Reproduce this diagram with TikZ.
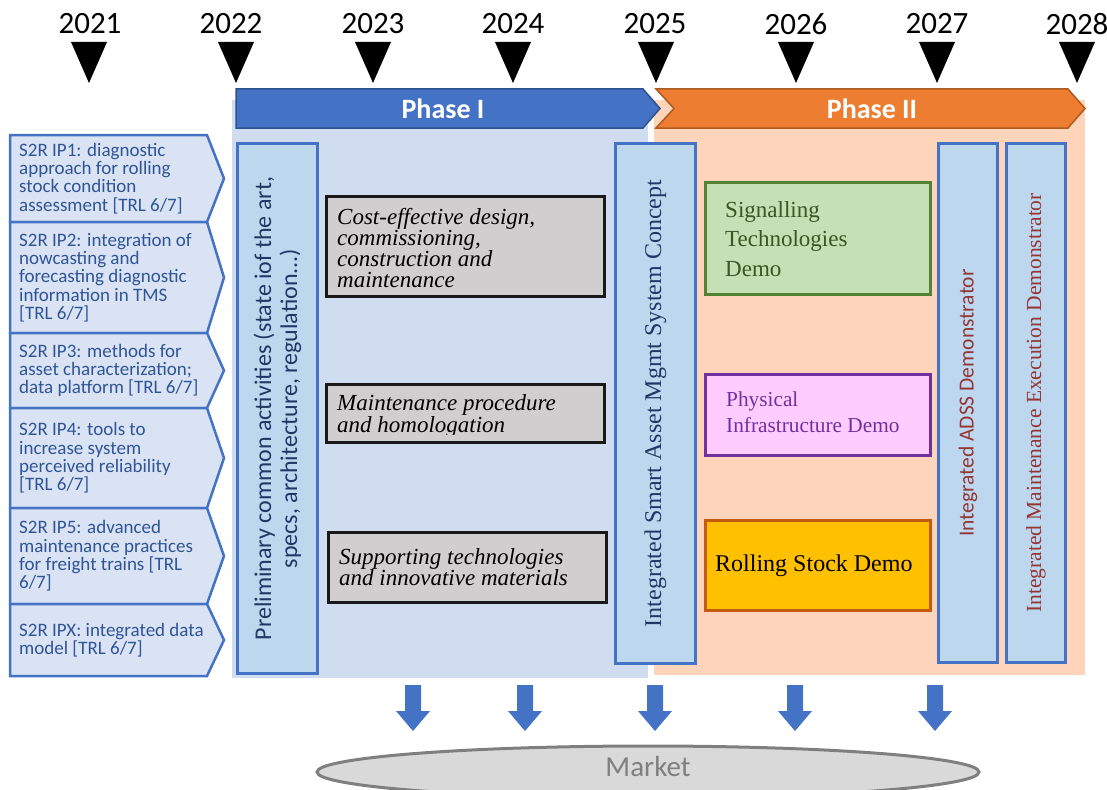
\documentclass[tikz,border=0pt]{standalone}
\usepackage{fontspec}
\setmainfont{Liberation Serif}
\newfontfamily\calfont{Carlito}
\usetikzlibrary{shapes.geometric}
\definecolor{phIfill}{HTML}{4472C4}
\definecolor{phIdraw}{HTML}{2F528F}
\definecolor{phIIfill}{HTML}{ED7D31}
\definecolor{phIIdraw}{HTML}{AE5A21}
\definecolor{phIbg}{HTML}{D0DCF0}
\definecolor{phIIbg}{HTML}{FED5BB}
\definecolor{tallfill}{HTML}{BDD7EE}
\definecolor{ipfill}{HTML}{DAE3F3}
\definecolor{iptext}{HTML}{2F5597}
\definecolor{grayfill}{HTML}{D0CECE}
\definecolor{grnfill}{HTML}{C5E0B4}
\definecolor{grndraw}{HTML}{548235}
\definecolor{grntext}{HTML}{385723}
\definecolor{pinkfill}{HTML}{FFCCFF}
\definecolor{purp}{HTML}{7030A0}
\definecolor{orfill}{HTML}{FFC000}
\definecolor{ordraw}{HTML}{C55A11}
\definecolor{darkred}{HTML}{943634}
\definecolor{navy}{HTML}{203864}
\definecolor{mktfill}{HTML}{D9D9D9}
\definecolor{mktdraw}{HTML}{7F7F7F}
\newcommand\ipbox[4]{%
  \draw[ipshape] (10,#2) -- (207,#2) -- (224,{(#2+#3)/2}) -- (207,#3) -- (10,#3) -- cycle;
  \node[iplabel] (#1) at (19,{(#2+#3)/2}) {#4};
}
\begin{document}
\begin{tikzpicture}[x=1pt,y=-1pt,
  yearlbl/.style={font=\calfont\fontsize{31}{31}\selectfont, inner sep=0},
  phaselbl/.style={font=\calfont\bfseries\fontsize{28}{28}\selectfont, text=white, inner sep=0},
  ipshape/.style={fill=ipfill, draw=phIfill, line width=2.5pt, line join=miter},
  iplabel/.style={anchor=west, align=left, inner sep=0, text=iptext, font=\calfont\fontsize{19}{18.3}\selectfont},
  tallbox/.style={draw=phIfill, fill=tallfill, line width=3pt, rotate=90, inner sep=0, align=center},
  graybox/.style={draw=black!90, fill=grayfill, line width=3.5pt, inner sep=0},
  itext/.style={anchor=west, align=left, inner sep=0, font=\itshape\fontsize{23}{21.3}\selectfont},
  demobox/.style={line width=3pt, inner sep=0},
  downarrow/.style={fill=phIfill}
]
\useasboundingbox (0,0) rectangle (1107,789);
\clip (0,0) rectangle (1107,789);

% phase backgrounds
\fill[phIbg] (232,100) rectangle (648,678);
\fill[phIIbg] (654,100) rectangle (1085,675);

% years
\foreach \yr/\tx/\x in {2021/90/89,2022/231/236,2023/373/373,2024/513/513,2025/655/656,2026/796/796,2027/937/937,2028/1077/1077} {
  \node[yearlbl] (y\yr) at (\tx,24) {\yr};
  \fill (\x-18,42) -- (\x+18,42) -- (\x,83) -- cycle;
}

% phase arrows
\draw[fill=phIfill, draw=phIdraw, line width=1.5pt] (236,89) -- (643,89) -- (660,108.5) -- (643,128) -- (236,128) -- cycle;
\node[phaselbl] (ph1) at (443,109) {Phase I};
\draw[fill=phIIfill, draw=phIIdraw, line width=1.5pt] (656,89) -- (1068,89) -- (1085,108.5) -- (1068,128) -- (656,128) -- (674,108.5) -- cycle;
\node[phaselbl] (ph2) at (872,109) {Phase II};

% left IP boxes
\ipbox{ip1}{135}{222}{S2R IP1: diagnostic\\approach for rolling\\stock condition\\assessment [TRL 6/7]}
\ipbox{ip2}{222}{333}{S2R IP2: integration of\\nowcasting and\\forecasting diagnostic\\information in TMS\\{[TRL 6/7]}}
\ipbox{ip3}{333}{408}{S2R IP3: methods for\\asset characterization;\\data platform [TRL 6/7]}
\ipbox{ip4}{408}{508}{S2R IP4: tools to\\increase system\\perceived reliability\\{[TRL 6/7]}}
\ipbox{ip5}{508}{604}{S2R IP5: advanced\\maintenance practices\\for freight trains [TRL\\6/7]}
\ipbox{ipx}{604}{676}{S2R IPX: integrated data\\model [TRL 6/7]}

% tall boxes
\node[tallbox, minimum width=530, minimum height=80, text=navy,
  font=\calfont\fontsize{24}{26}\selectfont] (prelim) at (277.5,408.5)
  {Preliminary common activities (state iof the art,\\specs, architecture, regulation...)};
\node[tallbox, minimum width=520, minimum height=80, text=navy,
  font=\fontsize{24}{26}\selectfont] (ismc) at (655.5,403.5)
  {Integrated Smart Asset Mgmt System Concept};
\node[tallbox, minimum width=519, minimum height=59, text=darkred,
  font=\calfont\fontsize{21.5}{22}\selectfont] (adss) at (968,403)
  {Integrated ADSS Demonstrator};
\node[tallbox, minimum width=519, minimum height=59, text=darkred,
  font=\fontsize{21.5}{22}\selectfont] (imed) at (1036,403)
  {Integrated Maintenance Execution Demonstrator};

% gray boxes
\node[graybox, minimum width=278, minimum height=100] (g1) at (465.5,246.5) {};
\node[itext] (g1t) at (337,248) {Cost-effective design,\\commissioning,\\construction and\\maintenance};
\node[graybox, minimum width=278, minimum height=58] (g2) at (465.5,413.5) {};
\begin{scope}
  \clip (328,386) rectangle (603,434);
  \node[itext] (g2t) at (337,416) {Maintenance procedure\\and homologation};
\end{scope}
\node[graybox, minimum width=278, minimum height=70] (g3) at (467.5,567.5) {};
\node[itext] (g3t) at (339,567) {Supporting technologies\\and innovative materials};

% demo boxes
\node[demobox, draw=grndraw, fill=grnfill, minimum width=225, minimum height=112] (sig) at (818,238.5) {};
\node[anchor=west, align=left, inner sep=0, text=grntext, font=\fontsize{23}{29.5}\selectfont] (sigt) at (725,239) {Signalling\\Technologies\\Demo};
\node[demobox, draw=purp, fill=pinkfill, minimum width=225, minimum height=81] (phy) at (818,415) {};
\node[anchor=west, align=left, inner sep=0, text=purp, font=\fontsize{21.3}{26}\selectfont] (phyt) at (726,412) {Physical\\Infrastructure Demo};
\node[demobox, draw=ordraw, fill=orfill, minimum width=225, minimum height=90] (rsd) at (818,565.5) {};
\node[anchor=west, inner sep=0, font=\fontsize{24}{26}\selectfont] (rsdt) at (715,566) {Rolling Stock Demo};

% down arrows
\foreach \x in {413,525,655,795,935} {
  \fill[downarrow] (\x-8,685) -- (\x+8,685) -- (\x+8,711) -- (\x+17,711) -- (\x,731) -- (\x-17,711) -- (\x-8,711) -- cycle;
}

% market
\node[ellipse, draw=mktdraw, fill=mktfill, line width=3pt, minimum width=662, minimum height=52, inner sep=0] (mkt) at (648,772) {};
\node[inner sep=0, text=mktdraw, font=\calfont\fontsize{29}{29}\selectfont] (mktt) at (648,767) {Market};
\end{tikzpicture}
\end{document}
